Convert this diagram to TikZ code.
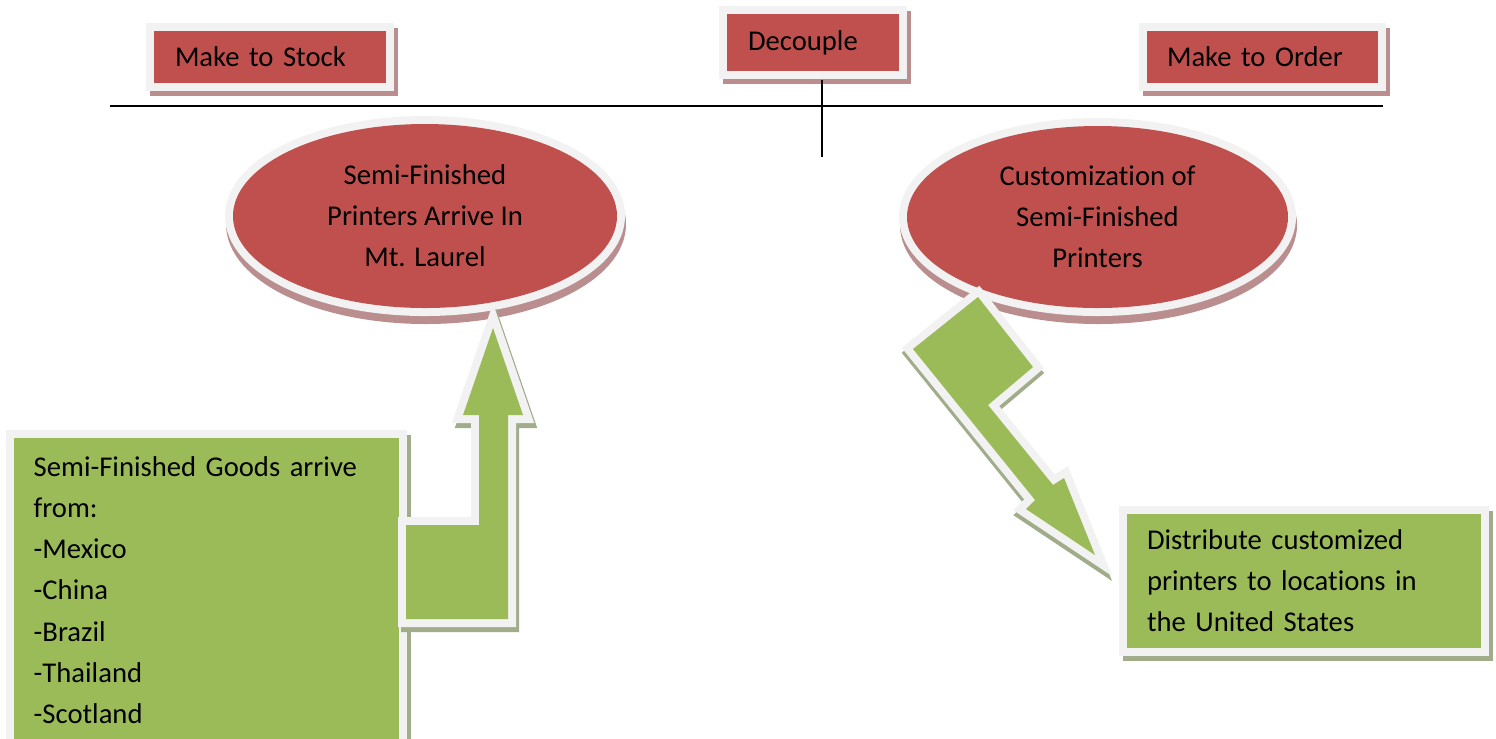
\documentclass[tikz,border=0pt]{standalone}
\usepackage{fontspec}
\setmainfont{Carlito}[Ligatures = NoCommon]
\usepackage{tikz}
\usetikzlibrary{shapes.geometric}

\definecolor{boxred}{RGB}{192,80,77}
\definecolor{boxgreen}{RGB}{155,187,89}
\definecolor{rim}{RGB}{242,242,242}
\definecolor{redshade}{RGB}{186,142,142}
\definecolor{greenshade}{RGB}{160,172,138}

\tikzset{
    rimmed/.style = {preaction = {draw = rim, line width = 0.16cm}},
    castshadow/.style n args = {3}{preaction = {draw = #1, fill = #1, line width = 0.16cm,
        transform canvas = {shift = {(#2,#3)}}}},
    redbox/.style = {rectangle, castshadow = {redshade}{0.04}{-0.05}, rimmed, fill = boxred,
        align = left, inner xsep = 0.21cm, inner ysep = 0},
    redoval/.style = {ellipse, castshadow = {redshade}{0.01}{-0.08}, rimmed, fill = boxred,
        align = center, inner sep = 0},
    greenbox/.style = {rectangle, castshadow = {greenshade}{0.04}{-0.05}, rimmed, fill = boxgreen,
        align = left, inner xsep = 0.20cm}
}

\begin{document}
\begin{tikzpicture}[font = \fontsize{8.15}{11.7}\selectfont]

    \useasboundingbox (0,0) rectangle (14.96,-7.38);
    \clip (0,0) rectangle (14.96,-7.38);

    % Coordinates
    \coordinate (axisL) at (1.10,-1.06);
    \coordinate (axisR) at (13.83,-1.06);
    \coordinate (cut) at (8.22,-1.57);

    % Stock / Order axis
    \draw [line width = 0.02cm] (axisL) -- (axisR);

    % Top labels
    \node [redbox, text width = 1.90cm, minimum height = 0.52cm] (stock) at (2.70,-0.57) {Make to Stock};
    \node [redbox, text width = 1.30cm, minimum height = 0.57cm] (decouple) at (8.13,-0.425) {Decouple};
    \node [redbox, text width = 1.91cm, inner xsep = 0.20cm, minimum height = 0.52cm] (order) at (12.625,-0.57) {Make to Order};

    % Decoupling point
    \draw [line width = 0.02cm] ([yshift = -0.08cm] cut |- decouple.south) -- (cut);

    % Ovals
    \node [redoval, minimum width = 3.84cm, minimum height = 1.84cm] (semi) at (4.25,-2.16)
        {Semi-Finished\\Printers Arrive In\\Mt. Laurel};
    \node [redoval, minimum width = 3.81cm, minimum height = 1.82cm] (custom) at (10.975,-2.17)
        {Customization of\\Semi-Finished\\Printers};

    % Goods box
    \node [greenbox, anchor = north west, text width = 3.45cm, inner ysep = 0.19cm, text depth = 2.8cm] (goods) at (0.13,-4.37)
        {Semi-Finished Goods arrive\\from:\\-Mexico\\-China\\-Brazil\\-Thailand\\-Scotland};

    % Up arrow
    \path [castshadow = {greenshade}{0.03}{-0.05}, rimmed, fill = boxgreen]
        (4.06,-5.25) -- (4.79,-5.25) -- (4.79,-4.15) -- (4.63,-4.15) -- (4.93,-3.28)
        -- (5.23,-4.15) -- (5.08,-4.15) -- (5.08,-6.19) -- (4.06,-6.19) -- cycle;

    % Bent arrow
    \path [castshadow = {greenshade}{0}{-0.05}, rimmed, fill = boxgreen]
        (9.78,-2.97) -- (9.13,-3.49) -- (10.35,-5.00) -- (10.26,-5.09) -- (10.95,-5.55)
        -- (10.64,-4.78) -- (10.53,-4.85) -- (9.88,-4.05) -- (10.33,-3.67) -- cycle;

    % Distribution box
    \node [greenbox, text width = 3.14cm, minimum height = 1.34cm] (dist) at (13.04,-5.81)
        {Distribute customized\\printers to locations in\\the United States};

\end{tikzpicture}
\end{document}
